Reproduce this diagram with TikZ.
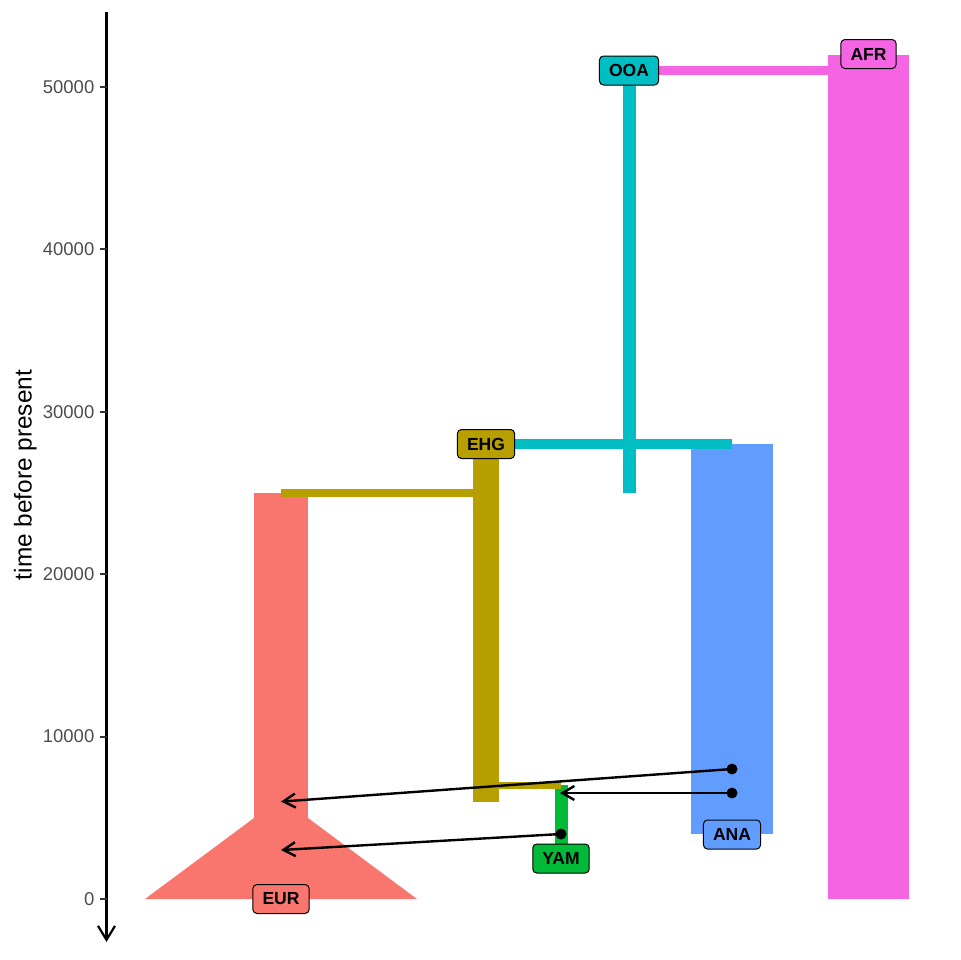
\documentclass[tikz,border=0pt]{standalone}
\usepackage{fontspec}
\setmainfont{Liberation Sans}
\usetikzlibrary{arrows.meta}
\definecolor{eurc}{HTML}{F8766D}
\definecolor{ehgc}{HTML}{B79F00}
\definecolor{yamc}{HTML}{00BA38}
\definecolor{ooac}{HTML}{00BFC4}
\definecolor{anac}{HTML}{619CFF}
\definecolor{afrc}{HTML}{F564E3}
\definecolor{tickc}{HTML}{4D4D4D}
\begin{document}
\begin{tikzpicture}[x=1bp,y=-1bp,
  lbl/.style={draw=black, line width=1bp, rounded corners=4bp, inner xsep=9.6bp, inner ysep=0pt,
    minimum height=29bp, font=\fontsize{17.5bp}{20bp}\selectfont\bfseries, text=black},
  ticklab/.style={anchor=east, inner sep=0pt, text=tickc, font=\fontsize{18.5bp}{22bp}\selectfont},
  tickmark/.style={line width=2bp, draw=black!80},
  axisline/.style={line width=2.2bp, -{Straight Barb[length=14bp,width=17bp]}},
  mig/.style={line width=2.4bp, black, -{Straight Barb[length=12bp,width=14bp]}},
  mdot/.style={circle, fill=black, inner sep=0pt, minimum size=11bp}]
\useasboundingbox (0,0) rectangle (960,960);
% populations
\fill[afrc] (828,54.6) rectangle (909,899);
\fill[afrc] (629,65.5) rectangle (828,74.5);
\fill[anac] (691,444) rectangle (773,834);
\fill[ooac] (623,70) rectangle (636,493);
\fill[ooac] (486,439) rectangle (732,449);
\fill[eurc] (254,493) rectangle (308,818);
\fill[eurc] (254,818) -- (308,818) -- (417,899) -- (145,899) -- cycle;
\fill[yamc] (555,785) rectangle (568,858);
\fill[ehgc] (473,444) rectangle (499,802);
\fill[ehgc] (281,489) rectangle (473,497);
\fill[ehgc] (499,781.5) rectangle (561,789);
% axis
\coordinate (axtop) at (106.5,12);
\coordinate (axbot) at (106.5,942);
\draw[axisline] (axtop) -- (axbot);
\foreach \v/\yy in {0/899, 10000/736.6, 20000/574.2, 30000/411.8, 40000/249.4, 50000/87} {
  \draw[tickmark] (100,\yy) -- (106.5,\yy);
  \node[ticklab] (t\v) at (94.5,\yy) {\v};
}
\node[rotate=90, anchor=base, inner sep=0pt, font=\fontsize{24.4bp}{28bp}\selectfont] (ytitle) at (31.7,475) {time before present};
% migrations
\node[mdot] (d1) at (732,769) {};
\node[mdot] (d2) at (732,793) {};
\node[mdot] (d3) at (561,834) {};
\coordinate (e1) at (281,801.6);
\coordinate (e2) at (560,793);
\coordinate (e3) at (281,850);
\draw[mig] (d1.center) -- (e1);
\draw[mig] (d2.center) -- (e2);
\draw[mig] (d3.center) -- (e3);
% labels
\node[lbl, fill=afrc] (AFR) at (868.5,54) {AFR};
\node[lbl, fill=ooac] (OOA) at (629,70.5) {OOA};
\node[lbl, fill=ehgc] (EHG) at (486,444) {EHG};
\node[lbl, fill=anac] (ANA) at (732,834.5) {ANA};
\node[lbl, fill=yamc] (YAM) at (561,858.5) {YAM};
\node[lbl, fill=eurc] (EUR) at (281,899) {EUR};
\end{tikzpicture}
\end{document}
